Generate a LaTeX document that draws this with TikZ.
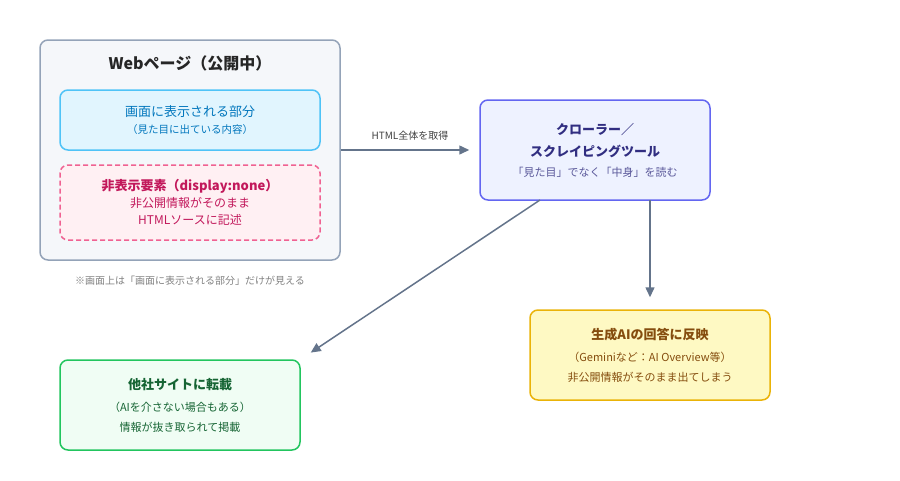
\documentclass[tikz,border=0pt]{standalone}
\usepackage{fontspec}
\setmainfont{Noto Sans CJK JP}
\usetikzlibrary{arrows.meta,positioning}
\definecolor{edgegray}{HTML}{64748B}
\definecolor{webline}{HTML}{94A3B8}
\definecolor{webfill}{HTML}{F5F7FA}
\definecolor{visline}{HTML}{4FC3F7}
\definecolor{visfill}{HTML}{E1F5FE}
\definecolor{vistext}{HTML}{0277BD}
\definecolor{hidline}{HTML}{F06292}
\definecolor{hidfill}{HTML}{FFF0F3}
\definecolor{hidtext}{HTML}{C2185B}
\definecolor{crwline}{HTML}{6366F1}
\definecolor{crwfill}{HTML}{EEF2FF}
\definecolor{crwtext}{HTML}{312E81}
\definecolor{ailine}{HTML}{EAB308}
\definecolor{aifill}{HTML}{FEF9C3}
\definecolor{aitext}{HTML}{854D0E}
\definecolor{othline}{HTML}{22C55E}
\definecolor{othfill}{HTML}{F0FDF4}
\definecolor{othtext}{HTML}{166534}
\tikzset{
  box/.style={draw, line width=1.5pt, rounded corners=8pt, align=center, inner sep=0pt},
  flow/.style={-{Triangle[length=10pt,width=9pt]}, draw=edgegray, line width=1.5pt},
}
\begin{document}
\begin{tikzpicture}[x=1pt, y=-1pt]
\useasboundingbox (0,0) rectangle (900,480);

\node[box, draw=webline, fill=webfill, minimum width=300pt, minimum height=220pt] (web) at (190,150) {};
\node[font=\bfseries\fontsize{16}{18}\selectfont, text=black!85] (webtitle) at (190,63) {Webページ（公開中）};
\node[box, draw=visline, fill=visfill, minimum width=260pt, minimum height=60pt,
      text=vistext, font=\fontsize{13}{20}\selectfont] (visible) at (190,120)
      {画面に表示される部分\\[-3pt]{\fontsize{10.5}{14}\selectfont（見た目に出ている内容）}};
\node[box, dashed, dash pattern=on 5pt off 3pt, draw=hidline, fill=hidfill, minimum width=260pt, minimum height=75pt,
      text=hidtext, font=\fontsize{12}{17}\selectfont] (hidden) at (190,202.5)
      {{\bfseries\fontsize{13}{17}\selectfont 非表示要素（display:none）}\\非公開情報がそのまま\\HTMLソースに記述};
\node[text=gray, font=\fontsize{10}{12}\selectfont] (note) at (190,281) {※画面上は「画面に表示される部分」だけが見える};

\node[box, draw=crwline, fill=crwfill, minimum width=230pt, minimum height=100pt,
      text=crwtext, font=\fontsize{13}{22}\selectfont] (crawler) at (595,150)
      {{\bfseries クローラー／}\\{\bfseries スクレイピングツール}\\[-2pt]{\fontsize{11}{14}\selectfont\color{crwtext!80}「見た目」でなく「中身」を読む}};

\node[box, draw=ailine, fill=aifill, minimum width=240pt, minimum height=90pt,
      text=aitext, font=\fontsize{11}{20}\selectfont] (ai) at (650,355)
      {{\bfseries\fontsize{13}{20}\selectfont 生成AIの回答に反映}\\[2pt]（Geminiなど：AI Overview等）\\非公開情報がそのまま出てしまう};

\node[box, draw=othline, fill=othfill, minimum width=240pt, minimum height=90pt,
      text=othtext, font=\fontsize{11}{20}\selectfont] (other) at (180,405)
      {{\bfseries\fontsize{13}{20}\selectfont 他社サイトに転載}\\[2pt]（AIを介さない場合もある）\\情報が抜き取られて掲載};

\draw[flow, shorten >=10pt] (web.east |- 0,150) -- node[above=6pt, text=black!75, font=\fontsize{10}{12}\selectfont] {HTML全体を取得} (crawler.west |- 0,150);
\draw[flow, shorten >=12pt] (540,200) -- (other.north east);
\draw[flow, shorten >=12pt] (650,200) -- (ai.north);
\end{tikzpicture}
\end{document}
